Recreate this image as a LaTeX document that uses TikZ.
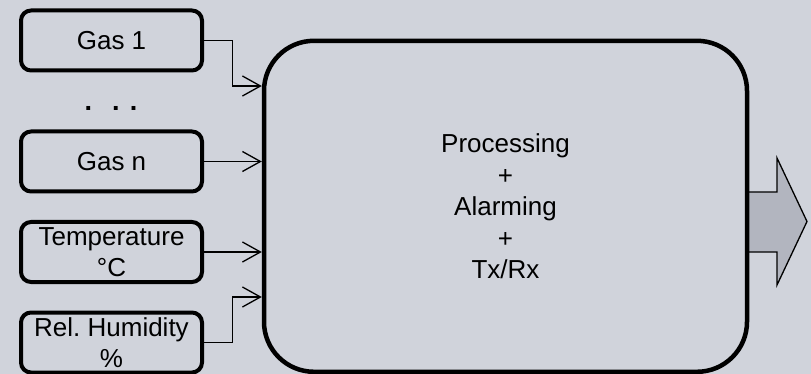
\documentclass[tikz,border=0pt]{standalone}
\usepackage{fontspec}
\setmainfont{Liberation Sans}
\usetikzlibrary{arrows.meta}
\definecolor{bg}{RGB}{208,211,219}
\definecolor{arrowfill}{RGB}{178,181,191}
\frenchspacing
\begin{document}
\begin{tikzpicture}[x=1pt,y=-1pt,
  txt/.style={font=\fontsize{26pt}{31.5pt}\selectfont, align=center, inner sep=0pt},
  inbox/.style={txt, draw, line width=4pt, rounded corners=10pt,
     minimum width=181pt, minimum height=60pt},
  mainbox/.style={txt, draw, line width=4.5pt, rounded corners=50pt,
     minimum width=483pt, minimum height=331pt},
  conn/.style={line width=1.3pt, -{Straight Barb[length=18pt,width=20pt]}},
  bigarrow/.style={fill=arrowfill, draw=black, line width=1.3pt, line join=miter}]
\fill[bg] (0,0) rectangle (811,374);
\useasboundingbox (0,0) rectangle (811,374);

% output arrow (behind the main box)
\draw[bigarrow] (745,192) -- (777,192) -- (777,158) -- (807,221.5)
   -- (777,285) -- (777,252) -- (745,252);

\node[inbox] (gas1) at (111.5,40.5) {Gas 1};
\node[txt, anchor=base, font=\fontsize{27pt}{31.5pt}\selectfont\bfseries] (dots) at (111,110.5)
   {.\hspace{20pt}.\hspace{10pt}.};
\node[inbox] (gasn) at (111.5,161.5) {Gas n};
\node[inbox] (temp) at (111.5,252) {Temperature\\°C};
\node[inbox] (hum) at (111.5,342.5) {Rel.\ Humidity\\\%};

\node[mainbox] (main) at (505.5,206.3) {Processing\\+\\Alarming\\+\\Tx/Rx};

\draw[conn] (gas1.east) -- ++(28.3,0) |- ([yshift=120.3pt]main.west);
\draw[conn] (gasn.east) -- (main.west |- gasn.east);
\draw[conn] (temp.east) -- (main.west |- temp.east);
\draw[conn] (hum.east) -- ++(28.3,0) |- ([yshift=-90.7pt]main.west);
\end{tikzpicture}
\end{document}
